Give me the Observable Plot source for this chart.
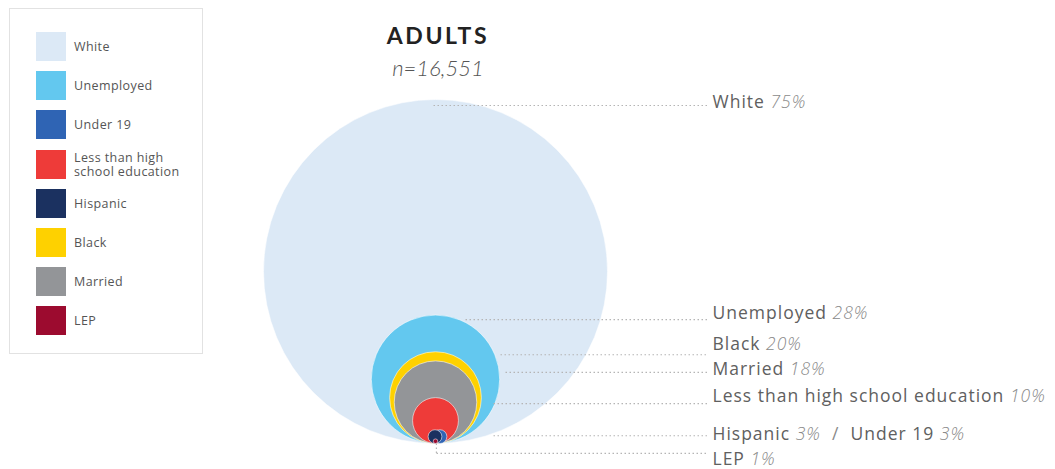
<!DOCTYPE html>
<html>
<head>
<meta charset="utf-8">
<script src="https://cdn.jsdelivr.net/npm/d3@7"></script>
<script src="https://cdn.jsdelivr.net/npm/@observablehq/plot@0.6"></script>
<style>
  html, body { margin: 0; padding: 0; background: #fff; }
  #wrap { position: relative; width: 1055px; height: 469px; overflow: hidden; font-family: "Open Sans", Lato, sans-serif; }
  #legend { position: absolute; left: 9px; top: 8px; width: 194px; height: 346px; border: 1px solid #e2e2e2; box-sizing: border-box; }
  .item { position: absolute; left: 26px; height: 30px; width: 165px; }
  .sw { position: absolute; left: 0; top: 0; width: 30px; height: 29px; }
  .lab { position: absolute; left: 38px; top: 50%; transform: translateY(-50%); font-size: 12.5px; line-height: 14px; color: #555; width: 130px; letter-spacing: 0.4px; }
  #title { position: absolute; left: 338px; width: 200px; top: 21px; text-align: center; font-size: 23px; font-weight: 700; letter-spacing: 2.6px; color: #222; font-family: Lato, sans-serif; }
  #sub { position: absolute; left: 338px; width: 200px; top: 54px; text-align: center; font-size: 22px; font-style: italic; font-weight: 300; color: #555; font-family: Lato, sans-serif; }
  #chart { position: absolute; left: 0; top: 0; }
</style>
</head>
<body>
<div id="wrap">
  <div id="chart"></div>
  <div id="legend"></div>
  <div id="title">ADULTS</div>
  <div id="sub">n=16,551</div>
</div>
<script>
// ---- data ----
const categories = ["White", "Unemployed", "Black", "Married", "Less than high school education", "Under 19", "Hispanic", "LEP"];
const values = [75, 28, 20, 18, 10, 3, 3, 1];
const colors = ["#dce9f6", "#63c8ef", "#fed100", "#939598", "#ee3b39", "#2f64b4", "#1b3160", "#9c0b2f"];
const legendOrder = ["White", "Unemployed", "Under 19", "Less than high school education", "Hispanic", "Black", "Married", "LEP"];
const legendLabels = ["White", "Unemployed", "Under 19", "Less than high school education", "Hispanic", "Black", "Married", "LEP"];

// ---- layout (px) ----
const W = 1055, H = 469, CX = 435, BOTTOM = 443, RMAX = 172;
const k = RMAX / 75; // px per percentage point
const colorOf = Object.fromEntries(categories.map((c, i) => [c, colors[i]]));

// legend
const legend = document.getElementById("legend");
legendOrder.forEach((c, i) => {
  const it = document.createElement("div");
  it.className = "item";
  it.style.top = (23 + i * 39.2) + "px";
  const sw = document.createElement("div");
  sw.className = "sw";
  sw.style.background = colorOf[c];
  const lb = document.createElement("div");
  lb.className = "lab";
  lb.textContent = legendLabels[i];
  lb.style.width = c.length > 20 ? "122px" : "130px";
  it.appendChild(sw); it.appendChild(lb);
  legend.appendChild(it);
});

// circles: tangent at bottom, radius proportional to share
const xShift = {"Under 19": 4.5 / k, "Hispanic": -0.5 / k};
const circles = categories.map((c, i) => ({name: c, v: values[i], color: colors[i], cx: xShift[c] || 0}));

// labels (Under 19 joins Hispanic since same size)
const labelNudge = {"White": 3, "Unemployed": -1.5, "Black": -7, "Married": 8, "Less than high school education": -1, "Hispanic": 5, "LEP": 20.5};
const leaderNudge = {"White": 6, "Unemployed": 4.5, "Black": 3, "Married": 11.5, "Less than high school education": 6, "Hispanic": 6, "LEP": 14.5};
const leaderStart = {"White": -2, "Unemployed": 30, "Black": 65, "Married": 70, "Less than high school education": 58, "Hispanic": 58, "LEP": 1};
const labels = circles.filter(d => d.name !== "Under 19").map(d => ({
  name: d.name,
  v: d.v,
  ly: 2 * d.v - labelNudge[d.name] / k,
  lineY: 2 * d.v - leaderNudge[d.name] / k,
  x1: leaderStart[d.name] / k
}));
const LABEL_X = (712 - CX) / k;
const LINE_END = (707 - CX) / k;
const lep = labels.find(d => d.name === "LEP");

const plot = Plot.plot({
  width: W, height: H,
  margin: 0,
  x: {domain: [-CX / k, (W - CX) / k], range: [0, W], axis: null},
  y: {domain: [0, BOTTOM / k], range: [BOTTOM, 0], axis: null},
  r: {type: "linear", domain: [0, 75], range: [0, RMAX]},
  color: {type: "identity"},
  style: {fontFamily: "'Open Sans', Lato, sans-serif", background: "transparent"},
  marks: [
    Plot.dot(circles, {x: "cx", y: "v", r: "v", fill: "color", stroke: "#fff", strokeOpacity: 0.55, strokeWidth: 1}),
    Plot.link(labels, {x1: "x1", x2: LINE_END, y1: "lineY", y2: "lineY", stroke: "#b5b5b5", strokeWidth: 1.2, strokeDasharray: "1.5,2.5"}),
    Plot.link([lep], {x1: 0.4, x2: 0.4, y1: 0, y2: "lineY", stroke: "#b5b5b5", strokeWidth: 1.2, strokeDasharray: "1.5,2.5"}),
    Plot.text(labels, {x: LABEL_X, y: "ly", text: "name", textAnchor: "start", lineAnchor: "middle", fontSize: 17.5, fill: "#606060"})
  ]
});
document.getElementById("chart").appendChild(plot);

// add italic percentages
const pct = Object.fromEntries(categories.map((c, i) => [c, values[i] + "%"]));
d3.select(plot).selectAll("text").each(function () {
  const t = this.textContent;
  if (!(t in pct)) return;
  const sel = d3.select(this);
  sel.attr("letter-spacing", "1px");
  sel.append("tspan").attr("font-style", "italic").attr("font-weight", 300).attr("fill", "#8a8a8a").text(" " + pct[t]);
  if (t === "Hispanic") {
    sel.append("tspan").attr("fill", "#8a8a8a").text("  /  ");
    sel.append("tspan").text("Under 19");
    sel.append("tspan").attr("font-style", "italic").attr("font-weight", 300).attr("fill", "#8a8a8a").text(" " + pct["Under 19"]);
  }
});
</script>
</body>
</html>
